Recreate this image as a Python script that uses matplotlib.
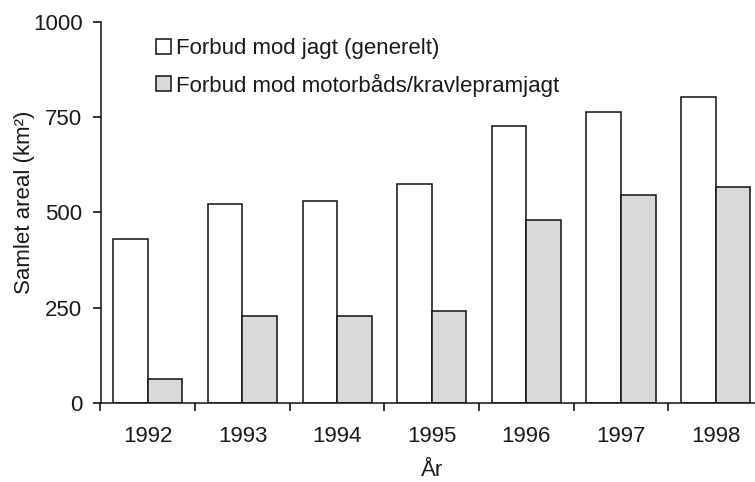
import numpy as np
import matplotlib
matplotlib.use('Agg')
import matplotlib.pyplot as plt
from matplotlib.patches import Patch

# ==== data ==== #
YEARS = ['1992', '1993', '1994', '1995', '1996', '1997', '1998']
GENERAL_BAN = [430, 521, 531, 575, 726, 763, 803]
BOAT_BAN = [61, 228, 229, 242, 481, 545, 567]
SERIES_LABELS = ['Forbud mod jagt (generelt)', 'Forbud mod motorbåds/kravlepramjagt']
Y_TICKS = [0, 250, 500, 750, 1000]

TEXT_COLOR = '#1a1a1a'
GRAY = '#d9d9d9'
FONT_SIZE = 16

plt.rcParams['font.family'] = ['Liberation Sans', 'DejaVu Sans']


def buildChart():
    fig = plt.figure(figsize=(7.55, 4.82), dpi=100)
    ax = fig.add_axes([100.5 / 755, 1 - 402.7 / 482, 662.5 / 755, 380.7 / 482])

    x = np.arange(len(YEARS))
    width = 0.365
    ax.bar(x - width / 2, GENERAL_BAN, width, color='white', edgecolor='#111111', linewidth=1.1)
    ax.bar(x + width / 2, BOAT_BAN, width, color=GRAY, edgecolor='#111111', linewidth=1.1)

    ax.set_xlim(-0.5, len(YEARS) - 0.5)
    ax.set_ylim(0, 1000)
    ax.set_yticks(Y_TICKS)
    ax.set_yticklabels([str(v) for v in Y_TICKS], fontsize=FONT_SIZE, color=TEXT_COLOR)

    # category labels centred, ticks between categories
    ax.set_xticks(np.arange(len(YEARS) + 1) - 0.5)
    ax.set_xticklabels([])
    ax.set_xticks(x, minor=True)
    ax.set_xticklabels(YEARS, minor=True, fontsize=FONT_SIZE, color=TEXT_COLOR)
    ax.tick_params(axis='x', which='minor', length=0, pad=17)
    ax.tick_params(axis='x', which='major', length=6, width=1.1, direction='out')
    ax.tick_params(axis='y', length=6, width=1.1, direction='out', pad=7)

    for side in ['top', 'right']:
        ax.spines[side].set_visible(False)
    for side in ['left', 'bottom']:
        ax.spines[side].set_linewidth(1.1)
        ax.spines[side].set_color('#111111')

    ax.set_ylabel('Samlet areal (km²)', fontsize=FONT_SIZE, color=TEXT_COLOR)
    ax.yaxis.set_label_coords(35 / 755, 1 - 202 / 482, transform=fig.transFigure)
    ax.set_xlabel('År', fontsize=FONT_SIZE, color=TEXT_COLOR, labelpad=9)

    handles = [
        Patch(facecolor='white', edgecolor='#111111', linewidth=1.1),
        Patch(facecolor=GRAY, edgecolor='#111111', linewidth=1.1),
    ]
    ax.legend(handles, SERIES_LABELS, loc='upper left', bbox_to_anchor=(156 / 755, 1 - 38 / 482),
              bbox_transform=fig.transFigure, frameon=False, fontsize=FONT_SIZE,
              handlelength=0.68, handleheight=0.68, handletextpad=0.22,
              labelspacing=0.65, borderpad=0, borderaxespad=0, labelcolor=TEXT_COLOR)

    fig.savefig('out.png', dpi=100)


if __name__ == '__main__':
    buildChart()
